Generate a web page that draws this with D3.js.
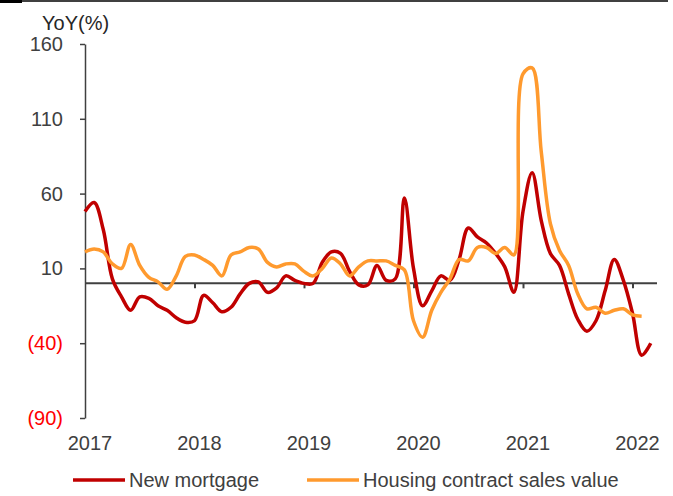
<!DOCTYPE html>
<html>
<head>
<meta charset="UTF-8">
<title>New mortgage vs housing sales</title>
<script src="https://d3js.org/d3.v7.min.js"></script>
<style>
  body { margin: 0; background: #fff; }
  text { font-family: "Liberation Sans", Arial, sans-serif; }
</style>
</head>
<body>
<script>
// monthly YoY (%), Jan 2017 onwards
var newMortgage = [48, 54, 36, 3, -9, -18, -9, -10, -15, -18, -23, -26,
  -25, -8, -13, -19, -16, -7, 0, 1, -6, -3, 5, 2,
  0, 0, 14, 21, 20, 8, -1, -1, 12, 2, 3, 57,
  10, -15, -5, 5, 2, 16, 37, 31, 27, 20, 11, -6,
  48, 74, 42, 20, 12, -7, -24, -32, -25, -5, 16, 2,
  -20, -48, -40];
var housingSales = [21, 23, 21, 13, 10, 26, 12, 4, 1, -4, 5, 18,
  19, 16, 12, 5, 19, 21, 24, 23, 14, 11, 13, 13,
  8, 5, 10, 17, 13, 5, 11, 15, 15, 15, 12, 9,
  -25, -36, -18, -6, 3, 16, 15, 24, 24, 20, 24, 19,
  140, 144, 88, 40, 22, 12, -7, -17, -16, -20, -18, -17,
  -21, -22];
var years = ["2017", "2018", "2019", "2020", "2021", "2022"];
var yTicks = [-90, -40, 10, 60, 110, 160];

var width = 673, height = 496;
var svg = d3.select("body").append("svg")
  .attr("width", width)
  .attr("height", height);

var x = d3.scaleLinear().domain([0, 60]).range([85, 632.5]);
var y = d3.scaleLinear().domain([-90, 160]).range([418, 44]);

var axisColor = "#404040";
var fontSize = "20px";

// top rule
svg.append("line")
  .attr("x1", 0).attr("x2", 668).attr("y1", 1).attr("y2", 1)
  .attr("stroke", "#000").attr("stroke-width", 1.5);
svg.append("rect")
  .attr("x", 0).attr("y", 0).attr("width", 22).attr("height", 3)
  .attr("fill", "#000");

// y axis
var yAxis = svg.append("g")
  .attr("transform", "translate(" + x(0) + ",0)")
  .call(d3.axisLeft(y).tickValues(yTicks).tickSize(5).tickSizeOuter(0)
    .tickFormat(function(d) { return d < 0 ? "(" + Math.abs(d) + ")" : d; }));
yAxis.select(".domain").attr("stroke", axisColor).attr("stroke-width", 1.5);
yAxis.selectAll(".tick line").attr("stroke", axisColor).attr("stroke-width", 1.5);
yAxis.selectAll(".tick text")
  .attr("x", -22)
  .style("font-size", fontSize)
  .style("font-family", "'Liberation Sans', Arial, sans-serif")
  .attr("fill", function(d) { return d < 0 ? "#ff0000" : "#404040"; });

svg.append("text")
  .attr("x", 42).attr("y", 30)
  .style("font-size", fontSize)
  .attr("fill", "#262626")
  .text("YoY(%)");

// x axis at zero
var xAxis = svg.append("g")
  .attr("transform", "translate(0," + y(0) + ")")
  .call(d3.axisBottom(x).tickValues([12, 24, 36, 48, 60]).tickSize(5)
    .tickSizeOuter(0).tickFormat(""));
xAxis.select(".domain").attr("d", "M" + x(0) + ",0H657")
  .attr("stroke", axisColor).attr("stroke-width", 2);
xAxis.selectAll(".tick line").attr("stroke", axisColor).attr("stroke-width", 2);

svg.selectAll(".year")
  .data(years)
  .enter().append("text")
  .attr("class", "year")
  .attr("x", function(d, i) { return x(i * 12) + 5; })
  .attr("y", 450)
  .attr("text-anchor", "middle")
  .style("font-size", fontSize)
  .attr("fill", "#404040")
  .text(function(d) { return d; });

var line = d3.line()
  .x(function(d, i) { return x(i); })
  .y(function(d) { return y(d); })
  .curve(d3.curveCatmullRom.alpha(0.5));

svg.append("path")
  .datum(newMortgage)
  .attr("fill", "none")
  .attr("stroke", "#c00000")
  .attr("stroke-width", 3.5)
  .attr("stroke-linejoin", "round")
  .attr("d", line);

svg.append("path")
  .datum(housingSales)
  .attr("fill", "none")
  .attr("stroke", "#ff9a2e")
  .attr("stroke-width", 3.5)
  .attr("stroke-linejoin", "round")
  .attr("d", line);

// legend
var legend = [
  { name: "New mortgage", color: "#c00000", x: 73 },
  { name: "Housing contract sales value", color: "#ff9a2e", x: 307 }
];
var lg = svg.selectAll(".legend")
  .data(legend)
  .enter().append("g")
  .attr("class", "legend")
  .attr("transform", function(d) { return "translate(" + d.x + ",480)"; });
lg.append("line")
  .attr("x1", 0).attr("x2", 52)
  .attr("stroke", function(d) { return d.color; })
  .attr("stroke-width", 3.5);
lg.append("text")
  .attr("x", 56).attr("y", 7)
  .style("font-size", fontSize)
  .attr("fill", "#404040")
  .text(function(d) { return d.name; });
</script>
</body>
</html>
